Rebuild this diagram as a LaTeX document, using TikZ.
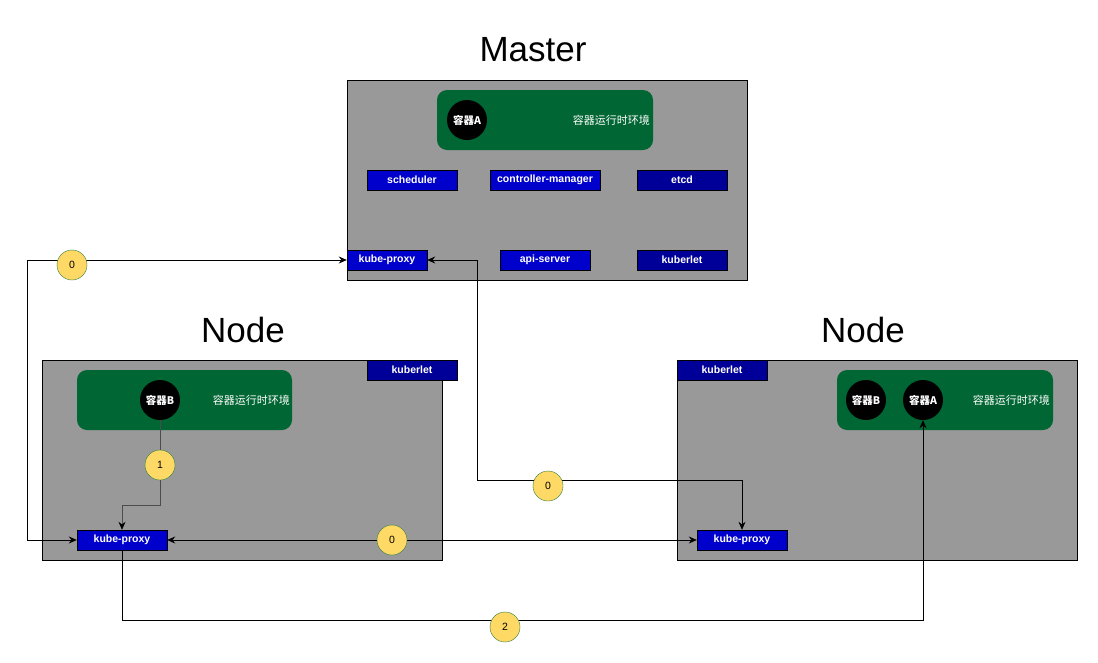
\documentclass[tikz,border=0pt]{standalone}
\usepackage{fontspec}
\setmainfont{Liberation Sans}
\newfontfamily\cjk{Noto Sans CJK SC}
\usetikzlibrary{arrows.meta}

\definecolor{boxgray}{HTML}{999999}
\definecolor{rtgreen}{HTML}{006633}
\definecolor{compblue}{HTML}{0000CC}
\definecolor{compdark}{HTML}{000099}
\definecolor{badgefill}{HTML}{FFD966}
\definecolor{badgeline}{HTML}{2D7F3A}

\begin{document}
\begin{tikzpicture}[x=1pt,y=-1pt,
	hostbox/.style={draw=black,fill=boxgray,line width=1pt,minimum width=400pt,minimum height=200pt,inner sep=0pt},
	runtime/.style={fill=rtgreen,rounded corners=10pt},
	comp/.style={draw=black,fill=compblue,text=white,minimum width=90pt,minimum height=20pt,inner sep=0pt,font=\fontsize{10.5}{12}\selectfont\bfseries},
	compd/.style={comp,fill=compdark},
	ctr/.style={circle,fill=black,text=white,minimum size=40pt,inner sep=0pt,font=\cjk\fontsize{10.5}{12}\selectfont\bfseries},
	rtlabel/.style={anchor=east,text=white,inner sep=0pt,font=\cjk\fontsize{11}{13}\selectfont},
	title/.style={font=\fontsize{35}{40}\selectfont},
	badge/.style={circle,draw=badgeline,fill=badgefill,minimum size=30pt,inner sep=0pt,font=\fontsize{10.5}{12}\selectfont},
	link/.style={draw=black,line width=0.8pt,-{Stealth[length=8pt,width=7pt]}},
	dlink/.style={link,{Stealth[length=8pt,width=7pt]}-{Stealth[length=8pt,width=7pt]}}]
	\useasboundingbox[fill=white] (0,0) rectangle (1098,662);
	% master
	\node[title] (mtitle) at (533,50) {Master};
	\node[hostbox] (master) at (547,180) {};
	\fill[runtime] (437,90) rectangle (653,150);
	\node[ctr] (mA) at (467,120) {容器A};
	\node[rtlabel] (mrt) at (650,120) {容器运行时环境};
	\node[comp] (sched) at (412,180) {scheduler};
	\node[comp,minimum width=110pt] (cm) at (545,180) {controller-manager};
	\node[compd] (etcd) at (682,180) {etcd};
	\node[comp,minimum width=80pt] (mproxy) at (387,260) {kube-proxy};
	\node[comp] (api) at (545,260) {api-server};
	\node[compd] (mkubelet) at (682,260) {kuberlet};
	% left node
	\node[title] (ltitle) at (243,330) {Node};
	\node[hostbox] (lnode) at (242,460) {};
	\node[compd] (lkubelet) at (412,370) {kuberlet};
	\fill[runtime] (77,370) rectangle (292,430);
	\node[ctr] (lB) at (160,400) {容器B};
	\node[rtlabel] (lrt) at (290,400) {容器运行时环境};
	\node[comp] (lproxy) at (122,540) {kube-proxy};
	% right node
	\node[title] (rtitle) at (863,330) {Node};
	\node[hostbox] (rnode) at (877,460) {};
	\node[compd] (rkubelet) at (722,370) {kuberlet};
	\fill[runtime] (837,370) rectangle (1053,430);
	\node[ctr] (rB) at (866,400) {容器B};
	\node[ctr] (rA) at (923,400) {容器A};
	\node[rtlabel] (rrt) at (1050,400) {容器运行时环境};
	\node[comp] (rproxy) at (742,540) {kube-proxy};
	% connectors
	\draw[dlink] (mproxy.west) -- (27,260) |- (lproxy.west);
	\draw[dlink] (mproxy.east) -- (477,260) -- (477,480) -| (rproxy.north);
	\draw[dlink] (lproxy.east) -- (rproxy.west);
	\draw[link] (lproxy.south) -- (122,620) -| (rA.south);
	\draw[link,draw=black!70,-{Stealth[length=8pt,width=7pt,color=black]}] (lB.south) -- (160,505) -| (lproxy.north);
	% steps
	\node[badge] (b0a) at (72,265) {0};
	\node[badge] (b0b) at (548,486) {0};
	\node[badge] (b0c) at (392,540) {0};
	\node[badge] (b1) at (160,465) {1};
	\node[badge] (b2) at (505,627) {2};
\end{tikzpicture}
\end{document}
